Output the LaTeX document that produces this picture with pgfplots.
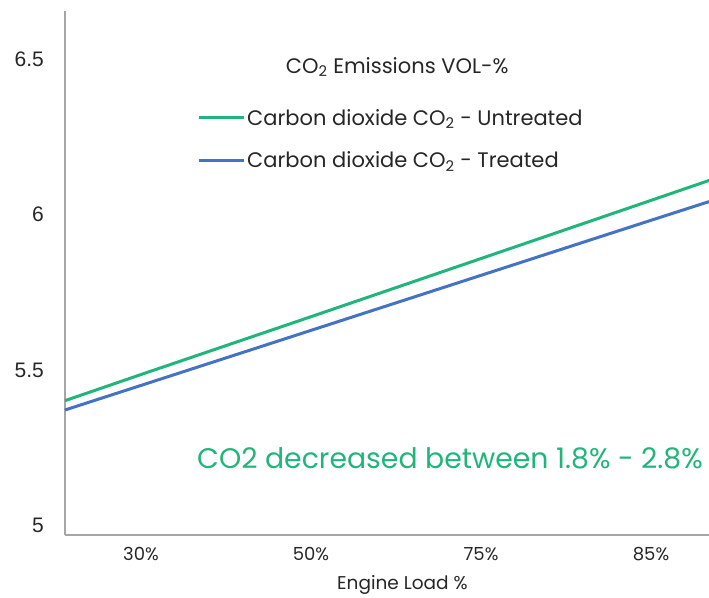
\documentclass[border=0pt]{standalone}
\usepackage{pgfplots}
\pgfplotsset{compat=1.18}
\usepackage{fontspec}
\setmainfont{Poppins}
\newfontfamily\arialf{Liberation Sans}
\definecolor{cgreen}{RGB}{32,181,122}
\definecolor{cblue}{RGB}{68,114,196}
\definecolor{caxis}{RGB}{166,166,166}
\definecolor{ctext}{RGB}{38,38,38}
\begin{document}
\begin{tikzpicture}
\useasboundingbox (-65pt,-62pt) rectangle (644pt,535pt);
\begin{axis}[
  scale only axis, width=644pt, height=524pt,
  at={(0pt,0pt)}, anchor=south west,
  xmin=-0.447, xmax=3.341, ymin=4.970, ymax=6.655,
  axis lines=left,
  axis line style={draw=caxis, line width=1.5pt, -},
  xtick={0,1,2,3}, xticklabels={30\%,50\%,75\%,85\%},
  ytick={5,5.5,6,6.5}, yticklabels={5,5.5,6,6.5},
  major tick length=0pt, tick style={draw=none},
  yticklabel style={font=\arialf\fontsize{21}{25}\selectfont, text=ctext, inner sep=0pt, xshift=-21pt},
  xticklabel style={font=\fontsize{18}{21}\selectfont, text=ctext, inner sep=0pt, yshift=-12pt},
  xlabel={Engine Load \%},
  xlabel style={font=\fontsize{18.5}{22}\selectfont, text=ctext, inner sep=0pt, at={(axis description cs:0.524,0)}, anchor=north, yshift=-40pt},
  clip=false,
  legend style={draw=none, fill=none, at={(axis description cs:0.205,0.817)}, anchor=north west,
     font=\fontsize{21}{25}\selectfont, text=ctext, row sep=21pt, inner sep=0pt},
  legend cell align=left,
  legend image code/.code={\draw[#1, line width=3pt] (0pt,0pt) -- (45pt,0pt);},
]
\addplot[cgreen, line width=3pt] coordinates {(-0.447,5.402) (0,5.486) (1,5.672) (2,5.859) (3,6.046) (3.341,6.110)};
\addlegendentry{Carbon dioxide CO\textsubscript{2} - Untreated}
\addplot[cblue, line width=3pt] coordinates {(-0.447,5.372) (0,5.451) (1,5.628) (2,5.805) (3,5.982) (3.341,6.042)};
\addlegendentry{Carbon dioxide CO\textsubscript{2} - Treated}
\node[font=\fontsize{21}{25}\selectfont, text=ctext, anchor=center] at (axis description cs:0.516,0.893) {CO\textsubscript{2} Emissions VOL-\%};
\node[font=\fontsize{28.3}{33}\selectfont, text=cgreen, anchor=west, inner sep=0pt] at (axis description cs:0.205,0.147) {CO2 decreased between 1.8\% - 2.8\%};
\end{axis}
\end{tikzpicture}
\end{document}
